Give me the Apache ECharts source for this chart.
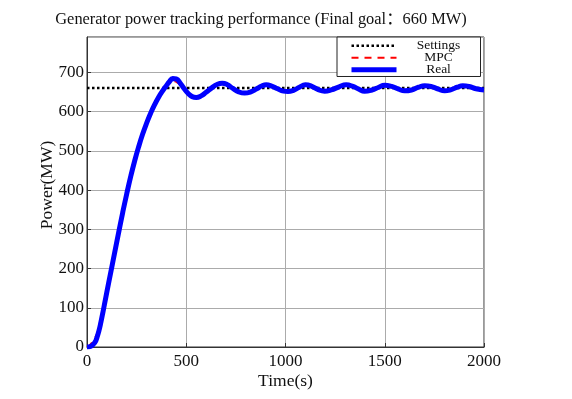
<!DOCTYPE html>
<html lang="en" style="height: 100%">
<head>
  <meta charset="utf-8">
</head>
<body style="height: 100%; margin: 0; background: #fff">
  <div id="container" style="width: 572px; height: 399px"></div>

  <script type="text/javascript" src="https://cdn.jsdelivr.net/npm/echarts@6/dist/echarts.min.js"></script>

  <script type="text/javascript">
    // values
    var settingTime = [0, 2000];
    var settingPower = [660, 660];

    var realTime = [0, 20, 40, 50, 60, 70, 80, 90, 100, 120, 140, 160, 180, 200, 220, 240, 260, 280, 300, 320, 340, 360, 380,
      400, 415, 432, 450, 470, 490, 510, 530, 550, 575, 600, 630, 655, 681, 705, 735, 765, 794, 825, 855,
      880, 903, 930, 960, 990, 1012, 1040, 1070, 1100, 1130, 1165, 1197, 1230, 1270, 1306, 1340, 1370, 1398,
      1435, 1470, 1499, 1535, 1570, 1600, 1635, 1670, 1701, 1740, 1770, 1802, 1835, 1865, 1893, 1925, 1960, 2000];
    var realPower = [0, 2, 12, 24, 41, 63, 88, 114, 140, 191, 242, 293, 343, 390, 434, 474, 510, 542, 570, 595, 617, 636, 652,
      666, 676, 684, 683, 672, 658, 646, 638, 636, 640, 649, 661, 669, 672, 669, 659, 650, 647, 650, 658,
      665, 668, 665, 658, 652, 651, 654, 662, 668, 665, 656, 652, 655, 663, 668, 664, 657, 652,
      655, 662, 667, 664, 657, 653, 655, 662, 666, 663, 657, 653, 656, 662, 666, 664, 658, 655];

    var mpcTime = [0, 15, 30, 50, 65, 85, 100, 120, 140, 160, 180, 200, 220, 240, 260, 280, 300, 320, 340, 360, 380,
      400, 420, 440, 460, 480, 500, 520, 545, 575, 600, 630, 655, 681, 705, 735, 765, 794, 825, 855,
      880, 903, 930, 960, 990, 1012, 1040, 1070, 1100, 1130, 1165, 1197, 1230, 1270, 1306, 1340, 1370, 1398,
      1435, 1470, 1499, 1535, 1570, 1600, 1635, 1670, 1701, 1740, 1770, 1802, 1835, 1865, 1893, 1925, 1960, 2000];
    var mpcPower = [0, 5, 15, 33, 58, 102, 141, 192, 243, 294, 344, 391, 435, 475, 511, 543, 572, 598, 621, 640, 656,
      668, 675, 677, 672, 662, 650, 642, 638, 641, 649, 660, 667, 670, 668, 659, 651, 648, 651, 658,
      664, 667, 665, 658, 653, 652, 655, 662, 667, 665, 657, 653, 655, 662, 667, 664, 658, 653,
      655, 661, 666, 664, 658, 654, 656, 661, 665, 663, 658, 654, 656, 661, 665, 663, 658, 656];

    var titleText = 'Generator power tracking performance (Final goal\uff1a660 MW)';

    function pairs(xs, ys) {
      return xs.map(function (x, i) { return [x, ys[i]]; });
    }

    var dom = document.getElementById('container');
    var myChart = echarts.init(dom, null, { renderer: 'canvas' });
    var serif = '"Liberation Serif", "Noto Sans CJK SC", serif';

    var option = {
      animation: false,
      backgroundColor: '#fff',
      title: {
        text: titleText,
        left: 256,
        top: 7,
        textAlign: 'center',
        textStyle: { fontFamily: serif, fontSize: 16.4, fontWeight: 'normal', color: '#111' }
      },
      legend: {
        data: ['Settings', 'MPC', 'Real'],
        orient: 'vertical',
        left: 337,
        top: 37,
        padding: [2, 5, 0, 12],
        itemGap: -1.5,
        itemWidth: 45,
        itemHeight: 11,
        backgroundColor: '#fff',
        borderColor: '#222',
        borderWidth: 1,
        borderRadius: 0,
        itemStyle: { opacity: 0 },
        lineStyle: { width: 'inherit' },
        formatter: function (name) { return '{c|' + name + '}'; },
        textStyle: {
          fontFamily: serif, fontSize: 13.5, color: '#111', lineHeight: 11, height: 11,
          rich: { c: { fontFamily: serif, fontSize: 13.5, color: '#111', width: 74, height: 11, align: 'center', lineHeight: 11 } }
        }
      },
      grid: { left: 87, right: 88, top: 37, bottom: 52, show: true, borderColor: '#333', borderWidth: 1 },
      xAxis: {
        type: 'value',
        min: 0,
        max: 2000,
        interval: 500,
        name: 'Time(s)',
        nameLocation: 'middle',
        nameGap: 26,
        nameMoveOverlap: false,
        nameTextStyle: { fontFamily: serif, fontSize: 17.5, color: '#111' },
        axisLine: { show: true, lineStyle: { color: '#333' } },
        axisTick: { inside: true, length: 4, lineStyle: { color: '#333' } },
        axisLabel: { fontFamily: serif, fontSize: 17, color: '#111', margin: 6, formatter: function (v) { return String(v); } },
        splitLine: { show: true, lineStyle: { color: '#ababab', width: 1 } }
      },
      yAxis: {
        type: 'value',
        min: 0,
        max: 790,
        interval: 100,
        name: 'Power(MW)',
        nameLocation: 'middle',
        nameGap: 31,
        nameMoveOverlap: false,
        nameTextStyle: { fontFamily: serif, fontSize: 17.5, color: '#111', padding: [0, 0, 0, 14] },
        axisLine: { show: true, lineStyle: { color: '#333' } },
        axisTick: { inside: true, length: 4, lineStyle: { color: '#333' } },
        axisLabel: { fontFamily: serif, fontSize: 17, color: '#111', margin: 3, showMaxLabel: false },
        splitLine: { show: true, lineStyle: { color: '#ababab', width: 1 } }
      },
      series: [
        {
          name: 'Settings',
          type: 'line',
          data: pairs(settingTime, settingPower),
          symbol: 'none',
          lineStyle: { color: '#000', width: 2.5, type: [2.5, 2.5] },
          itemStyle: { color: '#000' }
        },
        {
          name: 'MPC',
          type: 'line',
          data: pairs(mpcTime, mpcPower),
          symbol: 'none',
          smooth: 0.5,
          lineStyle: { color: '#ff0000', width: 2, type: [7, 6] },
          itemStyle: { color: '#ff0000' }
        },
        {
          name: 'Real',
          type: 'line',
          data: pairs(realTime, realPower),
          symbol: 'none',
          smooth: 0.5,
          lineStyle: { color: '#0000ff', width: 5 },
          itemStyle: { color: '#0000ff' }
        }
      ]
    };

    myChart.setOption(option);
    window.addEventListener('resize', myChart.resize);
  </script>
</body>
</html>
